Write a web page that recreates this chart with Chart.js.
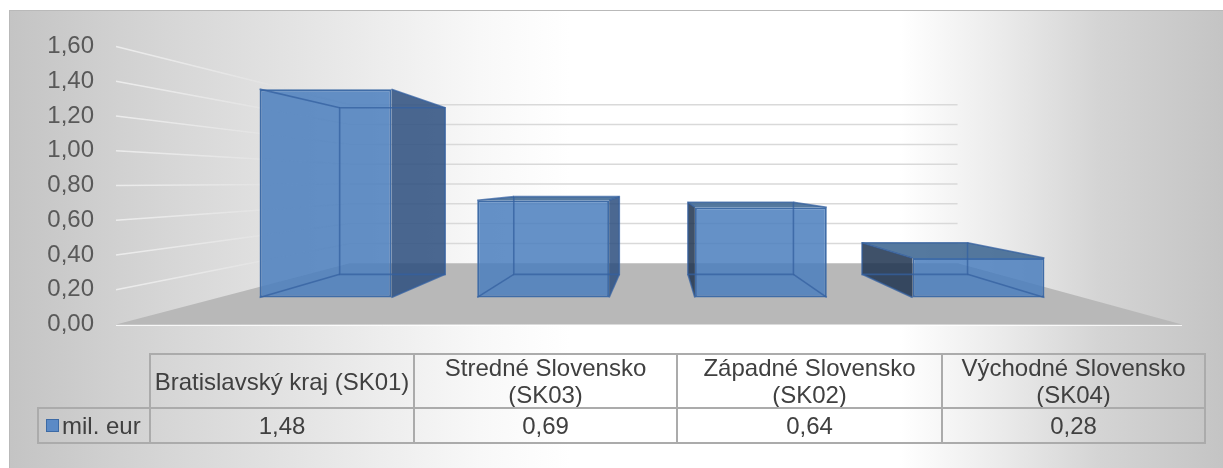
<!DOCTYPE html>
<html>
<head>
<meta charset="utf-8">
<script src="https://cdn.jsdelivr.net/npm/chart.js@4.4.1/dist/chart.umd.min.js"></script>
<style>
  html, body { margin: 0; padding: 0; background: #ffffff; }
  body { width: 1223px; height: 468px; position: relative; overflow: hidden;
         font-family: "Liberation Sans", Arial, sans-serif; }
  #frame { position: absolute; left: 9px; top: 10px; width: 1230px; height: 470px;
           border-left: 1px solid #b9b9b9; border-top: 1px solid #b9b9b9;
           background: linear-gradient(to right, #c4c4c4 0px, #d1d1d1 110px, #e4e4e4 290px,
             #f8f8f8 470px, #ffffff 560px, #ffffff 890px, #ebebeb 990px, #d4d4d4 1090px, #c4c4c4 1214px); }
  #c { position: absolute; left: 0; top: 0; }
  .cell { position: absolute; box-sizing: border-box; border: 2px solid #ababab;
          display: flex; align-items: center; justify-content: center; text-align: center;
          color: #404040; font-size: 24px; line-height: 27px; padding: 0 1px; }
  .legend { justify-content: flex-start; padding-left: 7px; white-space: nowrap; }
  .swatch { display: inline-block; width: 13px; height: 13px; box-sizing: border-box;
            background: #5b8ac6; border: 1px solid #3c6aa5; margin-right: 3px; }
</style>
</head>
<body>
<div id="frame"></div>
<canvas id="c" width="1223" height="468"></canvas>
<div id="table"></div>
<script>
// ---- data ----
const categories = ['Bratislavský kraj (SK01)', 'Stredné Slovensko (SK03)', 'Západné Slovensko (SK02)', 'Východné Slovensko (SK04)'];
const seriesName = 'mil. eur';
const values = [1.48, 0.69, 0.64, 0.28];
const yMin = 0;
const yMax = 1.6;
const yStep = 0.2;

const fmt = v => v.toFixed(2).replace('.', ',');

// ---- 3D perspective style constants (pixels) ----
const P = { vpx: 660, vpy: 182, depth: 0.8, wallT: 0.57, frontT: 0.81, xl: 116, xr: 1182,
            top: 46.5, bottom: 324.5, labelLeft: 47.3, plotLeft: 216.7, plotRight: 1087.3 };
const H = P.bottom - P.top;
const ybRange = (yMax - yMin) / P.frontT;
const ybMin = -ybRange * ((1 - P.frontT) * (P.bottom - P.vpy)) / H;
const ybMax = ybMin + ybRange;

function proj(x, y, t) { return [P.vpx + t * (x - P.vpx), P.vpy + t * (y - P.vpy)]; }
function poly(ctx, pts) { ctx.beginPath(); ctx.moveTo(pts[0][0], pts[0][1]); for (let i = 1; i < pts.length; i++) ctx.lineTo(pts[i][0], pts[i][1]); ctx.closePath(); }

function boxes(chart) {
  return chart.getDatasetMeta(0).data.map(el => {
    const p = el.getProps(['x', 'y', 'base', 'width'], true);
    const L = p.x - p.width / 2, R = p.x + p.width / 2, T = p.y, B = p.base;
    const f = { tl: [L, T], tr: [R, T], br: [R, B], bl: [L, B] };
    const b = {};
    for (const k in f) b[k] = proj(f[k][0], f[k][1], P.depth);
    return { f, b, L, R, T, B };
  });
}

const threeD = {
  id: 'threeD',
  beforeDatasetsDraw(chart) {
    const ctx = chart.ctx, ys = chart.scales.y;
    ctx.save();
    // wall gridlines
    ctx.lineWidth = 1.5;
    const wallBackX = proj(P.xl, 0, P.wallT)[0];
    const sideGrad = ctx.createLinearGradient(P.xl, 0, wallBackX, 0);
    sideGrad.addColorStop(0, '#ececec');
    sideGrad.addColorStop(1, '#dedede');
    ys.ticks.forEach(t => {
      if (t.value === yMin) return;
      const yF = ys.getPixelForValue(t.value);
      const b1 = proj(P.xl, yF, P.wallT), b2 = proj(P.xr, yF, P.wallT);
      ctx.strokeStyle = sideGrad;
      ctx.beginPath(); ctx.moveTo(P.xl, yF); ctx.lineTo(b1[0], b1[1]); ctx.stroke();
      ctx.strokeStyle = '#d9d9d9';
      ctx.beginPath(); ctx.moveTo(b1[0], b1[1]); ctx.lineTo(b2[0], b2[1]); ctx.stroke();
    });
    // floor
    const y0 = ys.getPixelForValue(yMin);
    poly(ctx, [[P.xl, y0], [P.xr, y0], proj(P.xr, y0, P.wallT), proj(P.xl, y0, P.wallT)]);
    ctx.fillStyle = '#b8b8b8'; ctx.fill();
    ctx.strokeStyle = 'rgba(255,255,255,0.8)'; ctx.lineWidth = 1;
    ctx.beginPath(); ctx.moveTo(P.xl, y0 + 1); ctx.lineTo(P.xr, y0 + 1); ctx.stroke();
    // side and top faces
    boxes(chart).forEach(bx => {
      const { f, b } = bx;
      if (bx.R < P.vpx) {
        poly(ctx, [f.tr, b.tr, b.br, f.br]); ctx.fillStyle = 'rgba(44,78,126,0.85)'; ctx.fill();
      } else if (bx.L > P.vpx) {
        poly(ctx, [f.tl, b.tl, b.bl, f.bl]); ctx.fillStyle = 'rgba(29,50,79,0.85)'; ctx.fill();
      }
      if (bx.T > P.vpy) {
        poly(ctx, [f.tl, f.tr, b.tr, b.tl]); ctx.fillStyle = 'rgba(55,97,142,0.85)'; ctx.fill();
      }
    });
    ctx.restore();
  },
  afterDatasetsDraw(chart) {
    const ctx = chart.ctx;
    ctx.save();
    ctx.lineWidth = 1.6;
    ctx.strokeStyle = 'rgba(52,96,160,0.75)';
    boxes(chart).forEach(bx => {
      const { f, b } = bx;
      poly(ctx, [b.tl, b.tr, b.br, b.bl]); ctx.stroke();
      ['tl', 'tr', 'br', 'bl'].forEach(k => {
        ctx.beginPath(); ctx.moveTo(f[k][0], f[k][1]); ctx.lineTo(b[k][0], b[k][1]); ctx.stroke();
      });
    });
    ctx.restore();
  }
};

new Chart(document.getElementById('c'), {
  type: 'bar',
  data: {
    labels: categories,
    datasets: [{
      label: seriesName,
      data: values,
      yAxisID: 'yb',
      backgroundColor: 'rgba(74,126,189,0.85)',
      borderColor: '#3f6ca7',
      borderWidth: 2,
      borderSkipped: false,
      categoryPercentage: 1,
      barPercentage: 0.606
    }]
  },
  options: {
    responsive: false,
    animation: false,
    devicePixelRatio: 1,
    layout: { padding: { left: P.labelLeft, right: 1223 - P.plotRight, top: P.top, bottom: 468 - P.bottom } },
    plugins: { legend: { display: false }, tooltip: { enabled: false } },
    scales: {
      x: { type: 'category', display: false, offset: true },
      y: {
        position: 'left', min: yMin, max: yMax,
        grid: { display: false, drawTicks: false }, border: { display: false },
        ticks: { stepSize: yStep, padding: 0, crossAlign: 'far', color: '#595959',
                 font: { family: '"Liberation Sans", Arial, sans-serif', size: 24 },
                 callback: v => fmt(v) },
        afterFit: s => { s.width = P.plotLeft - P.labelLeft; }
      },
      yb: { position: 'right', display: false, min: ybMin, max: ybMax }
    }
  },
  plugins: [threeD]
});

// ---- data table ----
const colX = [38, 150, 414, 677, 942, 1205];
const rowY = [354, 408, 443];
const tbl = document.getElementById('table');
function cell(x1, y1, x2, y2, cls) {
  const d = document.createElement('div');
  d.className = 'cell' + (cls ? ' ' + cls : '');
  d.style.left = (x1 - 1) + 'px'; d.style.top = (y1 - 1) + 'px';
  d.style.width = (x2 - x1 + 2) + 'px'; d.style.height = (y2 - y1 + 2) + 'px';
  tbl.appendChild(d);
  return d;
}
categories.forEach((c, i) => {
  cell(colX[i + 1], rowY[0], colX[i + 2], rowY[1]).textContent = c;
  cell(colX[i + 1], rowY[1], colX[i + 2], rowY[2]).textContent = fmt(values[i]);
});
const lg = cell(colX[0], rowY[1], colX[1], rowY[2], 'legend');
const sw = document.createElement('span'); sw.className = 'swatch';
lg.appendChild(sw);
lg.appendChild(document.createTextNode(seriesName));
</script>
</body>
</html>
